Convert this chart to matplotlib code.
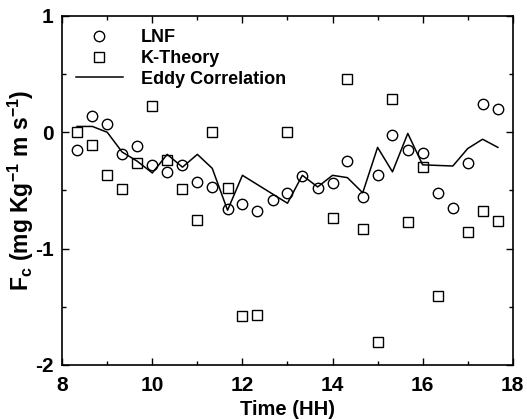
import matplotlib
matplotlib.use("Agg")
import matplotlib.pyplot as plt
import numpy as np

plt.rcParams['font.family'] = ['Liberation Sans', 'DejaVu Sans']
plt.rcParams['axes.unicode_minus'] = False
plt.rcParams['mathtext.fontset'] = 'custom'
plt.rcParams['mathtext.rm'] = 'Liberation Sans:bold'
plt.rcParams['mathtext.it'] = 'Liberation Sans:bold'
plt.rcParams['mathtext.bf'] = 'Liberation Sans:bold'

# LNF (circles)
lnf_t = [8.33, 8.67, 9.0, 9.33, 9.67, 10.0, 10.33, 10.67, 11.0, 11.33, 11.67, 12.0,
         12.33, 12.67, 13.0, 13.33, 13.67, 14.0, 14.33, 14.67, 15.0, 15.33, 15.67,
         16.0, 16.33, 16.67, 17.0, 17.33, 17.67]
lnf_v = [-0.15, 0.14, 0.07, -0.19, -0.12, -0.28, -0.34, -0.28, -0.43, -0.47, -0.66, -0.62,
         -0.68, -0.58, -0.52, -0.38, -0.48, -0.44, -0.25, -0.56, -0.37, -0.02, -0.15,
         -0.18, -0.52, -0.65, -0.26, 0.24, 0.20]

# K-Theory (squares)
kt_t = [8.33, 8.67, 9.0, 9.33, 9.67, 10.0, 10.33, 10.67, 11.0, 11.33, 11.67, 12.0,
        12.33, 13.0, 14.0, 14.33, 14.67, 15.0, 15.33, 15.67, 16.0, 16.33, 17.0, 17.33, 17.67]
kt_v = [0.0, -0.11, -0.37, -0.49, -0.26, 0.23, -0.24, -0.49, -0.75, 0.0, -0.48, -1.58,
        -1.57, 0.0, -0.74, 0.46, -0.83, -1.80, 0.29, -0.77, -0.30, -1.41, -0.86, -0.68, -0.76]

# Eddy correlation (line)
ec_t = [8.33, 8.67, 9.0, 9.33, 9.67, 10.0, 10.33, 10.67, 11.0, 11.33, 11.67, 12.0,
        13.0, 13.33, 13.67, 14.0, 14.33, 14.67, 15.0, 15.33, 15.67, 16.0, 16.33,
        16.67, 17.0, 17.33, 17.67]
ec_v = [0.05, 0.05, 0.0, -0.17, -0.25, -0.35, -0.19, -0.30, -0.19, -0.31, -0.67, -0.37,
        -0.61, -0.37, -0.47, -0.37, -0.39, -0.52, -0.13, -0.34, -0.01, -0.28, -0.285,
        -0.29, -0.14, -0.06, -0.13]

xticks = [8, 10, 12, 14, 16, 18]
yticks = [-2, -1, 0, 1]

fig = plt.figure(figsize=(5.27, 4.19), dpi=100)
ax = fig.add_axes([0.118, 0.129, 0.855, 0.833])

ax.plot(lnf_t, lnf_v, linestyle='none', marker='o', markersize=7.5,
        markerfacecolor='white', markeredgecolor='black', markeredgewidth=1.0, label='LNF')
ax.plot(kt_t, kt_v, linestyle='none', marker='s', markersize=7.5,
        markerfacecolor='white', markeredgecolor='black', markeredgewidth=1.0, label='K-Theory')
ax.plot(ec_t, ec_v, color='black', linewidth=1.1, label='Eddy Correlation')

ax.set_xlim(8, 18)
ax.set_ylim(-2, 1)
ax.set_xticks(xticks)
ax.set_yticks(yticks)
ax.set_xticks(np.arange(8, 18.01, 1), minor=True)
ax.set_yticks([-1.5, -0.5, 0.5], minor=True)
ax.tick_params(which='both', direction='in', top=True, right=True, width=1.0)
ax.tick_params(which='major', length=5, labelsize=15)
ax.tick_params(axis='x', which='major', pad=8)
ax.tick_params(axis='y', which='major', pad=6)
ax.tick_params(which='minor', length=3)
for lab in ax.get_xticklabels() + ax.get_yticklabels():
    lab.set_fontweight('bold')
for s in ax.spines.values():
    s.set_linewidth(1.2)

ax.set_xlabel('Time (HH)', fontsize=14.5, fontweight='bold')
ax.xaxis.set_label_coords(0.5, -0.1, transform=ax.transAxes)
ax.xaxis.label.set_va('top')
ax.set_ylabel(r'F$_\mathregular{c}$ (mg Kg$^\mathregular{-1}$ m s$^\mathregular{-1}$)',
              fontsize=16.5, fontweight='bold', labelpad=-1)

leg = ax.legend(loc='upper left', frameon=False, handlelength=2.6,
                handletextpad=1.0, labelspacing=0.2, borderaxespad=0.35,
                prop={'weight': 'bold', 'size': 13})

fig.savefig('out.png', dpi=100)
